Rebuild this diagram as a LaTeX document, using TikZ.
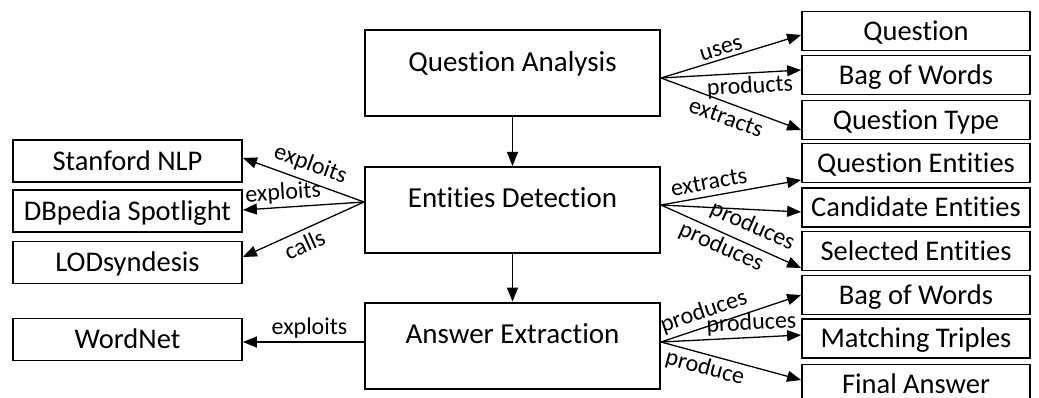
\documentclass[tikz,border=0pt]{standalone}
\usepackage{fontspec}
\setmainfont{Carlito}[Ligatures={NoCommon,NoContextual}]
\usetikzlibrary{arrows.meta}
\begin{document}
\begin{tikzpicture}[x=1pt,y=-1pt,
  mainbox/.style={draw, line width=2pt, minimum width=295pt, minimum height=86pt, inner sep=0pt,
    font=\fontsize{29}{31}\selectfont, text height=20.5pt, text depth=24.5pt},
  sidebox/.style={draw, line width=1.8pt, minimum width=228pt, minimum height=39pt, inner sep=0pt,
    font=\fontsize{28.5}{30}\selectfont, text height=18.3pt, text depth=0pt},
  leftbox/.style={sidebox, minimum width=229pt, minimum height=42pt},
  conn/.style={line width=1.3pt, -{Triangle[length=14pt,width=11pt]}},
  lab/.style={font=\fontsize{24}{26}\selectfont, inner sep=3pt, sloped}
]
\useasboundingbox (0,0) rectangle (1039,398);

% main boxes
\node[mainbox] (qa) at (512.5,73.5) {Question Analysis};
\node[mainbox] (ed) at (512.5,210) {Entities Detection};
\node[mainbox] (ae) at (512.5,345.5) {Answer Extraction};

% right boxes
\node[sidebox] (q1)   at (916,31)    {Question};
\node[sidebox] (bow1) at (916,75)    {Bag of Words};
\node[sidebox] (qt)   at (916,120)   {Question Type};
\node[sidebox] (qe)   at (916,163)   {Question Entities};
\node[sidebox] (ce)   at (916,207.5) {Candidate Entities};
\node[sidebox] (se)   at (916,251)   {Selected Entities};
\node[sidebox] (bow2) at (916,295)   {Bag of Words};
\node[sidebox] (mt)   at (916,338.5) {Matching Triples};
\node[sidebox] (fa)   at (916,384)   {Final Answer};

% left boxes
\node[leftbox] (sn)  at (127.5,161)   {Stanford NLP};
\node[leftbox] (db)  at (127.5,211)   {DBpedia Spotlight};
\node[leftbox] (lod) at (127.5,262.5) {LODsyndesis};
\node[leftbox] (wn)  at (127.5,339.5) {WordNet};

% vertical flow
\draw[conn] (qa.south) -- (ed.north);
\draw[conn] (ed.south) -- (ae.north);

% question analysis outputs
\draw[conn] ([yshift=-4.5pt]qa.east) -- ([yshift=-4pt]q1.west) node[lab, above, pos=0.45] {uses};
\draw[conn] ([yshift=-4.5pt]qa.east) -- ([yshift=5pt]bow1.west) node[lab, below, pos=0.63] {products};
\draw[conn] ([yshift=-4.5pt]qa.east) -- ([yshift=-10pt]qt.west) node[lab, below, pos=0.5, inner sep=6pt] {extracts};

% entities detection tools
\draw[conn] ([yshift=8pt]ed.west) -- ([yshift=3pt]sn.east) node[lab, above, pos=0.49, inner sep=6pt] {exploits};
\draw[conn] ([yshift=8pt]ed.west) -- ([yshift=1pt]db.east) node[lab, above, pos=0.66] {exploits};
\draw[conn] ([yshift=8pt]ed.west) -- ([yshift=5.5pt]lod.east) node[lab, below, pos=0.54, inner sep=5pt] {calls};

% entities detection outputs
\draw[conn] ([yshift=5pt]ed.east) -- ([yshift=-17pt]qe.west) node[lab, above, pos=0.36, inner sep=6pt] {extracts};
\draw[conn] ([yshift=5pt]ed.east) -- ([yshift=-4.5pt]ce.west);
\draw[conn] ([yshift=5pt]ed.east) -- ([yshift=-17pt]se.west)
  node[lab, above, pos=0.6, inner sep=7pt] {produces}
  node[lab, below, pos=0.47] {produces};

% answer extraction
\draw[conn] ([yshift=3.5pt]ae.west) -- ([yshift=-2.5pt]wn.east) node[lab, above, pos=0.45] {exploits};
\draw[conn] ([yshift=3.5pt]ae.east) -- (bow2.west) node[lab, above, pos=0.34, inner sep=4pt] {produces};
\draw[conn] ([yshift=3.5pt]ae.east) -- ([yshift=3.5pt]mt.west) node[lab, above, pos=0.65] {produces};
\draw[conn] ([yshift=3.5pt]ae.east) -- ([yshift=4pt]fa.west) node[lab, below, pos=0.34] {produce};
\end{tikzpicture}
\end{document}
